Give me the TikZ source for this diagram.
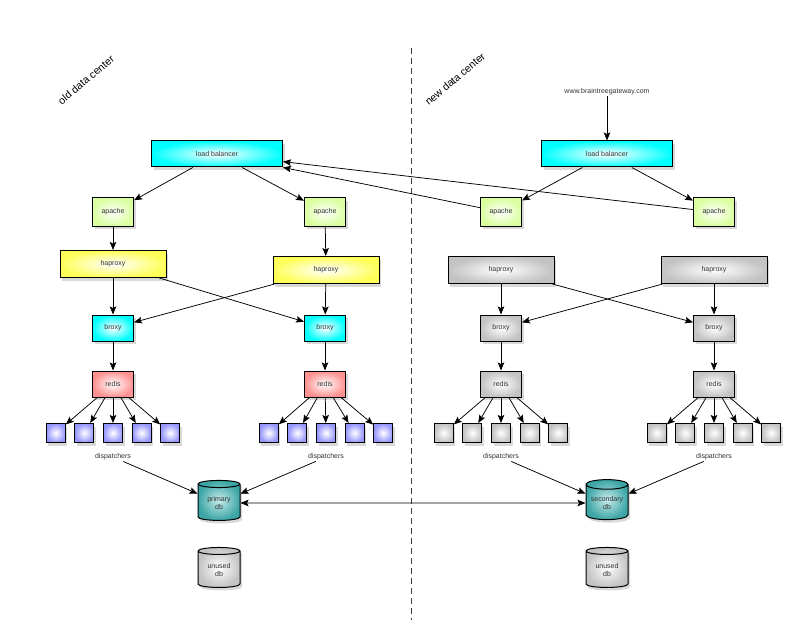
\documentclass[tikz,border=0pt]{standalone}
\usepackage{fontspec}
\setmainfont{Liberation Sans}
\usetikzlibrary{arrows.meta, shapes.geometric, shadows}

\definecolor{lbcyan}{RGB}{0,255,255}
\definecolor{apgreen}{RGB}{218,255,160}
\definecolor{hpyellow}{RGB}{255,255,90}
\definecolor{redpink}{RGB}{255,145,145}
\definecolor{dispblue}{RGB}{150,150,255}
\definecolor{newgray}{RGB}{195,195,195}
\definecolor{dbteal}{RGB}{60,165,165}
\definecolor{dbtop}{RGB}{200,235,235}
\definecolor{txtgray}{RGB}{50,50,50}

\begin{document}
\begin{tikzpicture}[
  x=1pt, y=-1pt,
  font=\fontsize{7}{8}\selectfont, text=txtgray,
  >={Stealth[length=8pt, width=6.5pt, inset=1.5pt]},
  tier/.style={draw, line width=1pt, inner sep=1pt, inner color=white, outer color=#1,
               drop shadow={shadow xshift=2pt, shadow yshift=-3pt, opacity=0.3}},
  lbbox/.style={tier=#1, minimum width=131pt, minimum height=26pt},
  hpbox/.style={tier=#1, minimum width=106pt, minimum height=27pt},
  smallbox/.style={tier=#1, minimum width=41pt, minimum height=26pt},
  apbox/.style={tier=#1, minimum width=41pt, minimum height=28pt},
  dispbox/.style={tier=#1, minimum width=19pt, minimum height=19pt},
  dbase/.style={cylinder, shape border rotate=90, aspect=0.28, draw, line width=1pt,
                minimum width=42pt, minimum height=40pt, align=center, inner sep=1pt,
                inner color=#1, drop shadow={shadow xshift=2pt, shadow yshift=-3pt, opacity=0.3}},
  conn/.style={->, line width=0.75pt},
  lbl/.style={inner sep=1pt},
  centre/.style={font=\fontsize{10.5}{12}\selectfont, rotate=40, text=black},
]
  \useasboundingbox (0,0) rectangle (800,631);

  % separation between the two sites
  \draw[dashed, line width=0.75pt, black!75, dash pattern=on 6pt off 4pt] (411,48) -- (411,620);
  \node[centre] (old) at (86,80) {old data center};
  \node[centre] (new) at (455,79) {new data center};

  % old data center
  \node[lbbox=lbcyan] (lb1) at (217,154) {load balancer};
  \node[apbox=apgreen] (ap1) at (113,212) {apache};
  \node[apbox=apgreen] (ap2) at (325,212) {apache};
  \node[hpbox=hpyellow] (hp1) at (113,264) {haproxy};
  \node[hpbox=hpyellow] (hp2) at (326,270) {haproxy};
  \node[smallbox=lbcyan] (br1) at (113,328) {broxy};
  \node[smallbox=lbcyan] (br2) at (325,328) {broxy};
  \node[smallbox=redpink] (rd1) at (113,384) {redis};
  \node[smallbox=redpink] (rd2) at (325,384) {redis};

  % new data center
  \node[lbl] (url) at (607,92) {www.braintreegateway.com};
  \node[lbbox=lbcyan] (lb2) at (607,154) {load balancer};
  \node[apbox=apgreen] (ap3) at (501,212) {apache};
  \node[apbox=apgreen] (ap4) at (714,212) {apache};
  \node[hpbox=newgray] (hp3) at (501,270) {haproxy};
  \node[hpbox=newgray] (hp4) at (714,270) {haproxy};
  \node[smallbox=newgray] (br3) at (501,328) {broxy};
  \node[smallbox=newgray] (br4) at (714,328) {broxy};
  \node[smallbox=newgray] (rd3) at (501,384) {redis};
  \node[smallbox=newgray] (rd4) at (714,384) {redis};

  % dispatchers
  \foreach \k/\x/\c in {1/113/dispblue, 2/326/dispblue, 3/501/newgray, 4/714/newgray} {
    \foreach \i in {1,...,5}
      \node[dispbox=\c] (dp\k\i) at ({\x+(\i-3)*28.6},433) {};
    \node[lbl] (dl\k) at (\x,457) {dispatchers};
    \foreach \i in {1,...,5}
      \draw[conn] (rd\k) -- (dp\k\i);
  }

  % databases
  \node[dbase=dbtop, outer color=dbteal] (pdb) at (219,503) {primary\\db};
  \node[dbase=white, outer color=newgray] (udb1) at (219,570) {unused\\db};
  \node[dbase=dbtop, outer color=dbteal] (sdb) at (607,503) {secondary\\db};
  \node[dbase=white, outer color=newgray] (udb2) at (607,570) {unused\\db};

  % connectors
  \draw[conn] (url) -- (lb2);
  \draw[conn] (lb1) -- (ap1); \draw[conn] (lb1) -- (ap2);
  \draw[conn] (lb2) -- (ap3); \draw[conn] (lb2) -- (ap4);
  \draw[conn] (ap3) -- (lb1); \draw[conn] (ap4) -- (lb1);
  \draw[conn] (ap1) -- (hp1); \draw[conn] (ap2) -- (hp2);
  \draw[conn] (hp1) -- (br1); \draw[conn] (hp1) -- (br2);
  \draw[conn] (hp2) -- (br1); \draw[conn] (hp2) -- (br2);
  \draw[conn] (hp3) -- (br3); \draw[conn] (hp3) -- (br4);
  \draw[conn] (hp4) -- (br3); \draw[conn] (hp4) -- (br4);
  \draw[conn] (br1) -- (rd1); \draw[conn] (br2) -- (rd2);
  \draw[conn] (br3) -- (rd3); \draw[conn] (br4) -- (rd4);
  \draw[conn] (dl1) -- (pdb); \draw[conn] (dl2) -- (pdb);
  \draw[conn] (dl3) -- (sdb); \draw[conn] (dl4) -- (sdb);
  \draw[conn, <->] (pdb) -- (sdb);
\end{tikzpicture}
\end{document}
